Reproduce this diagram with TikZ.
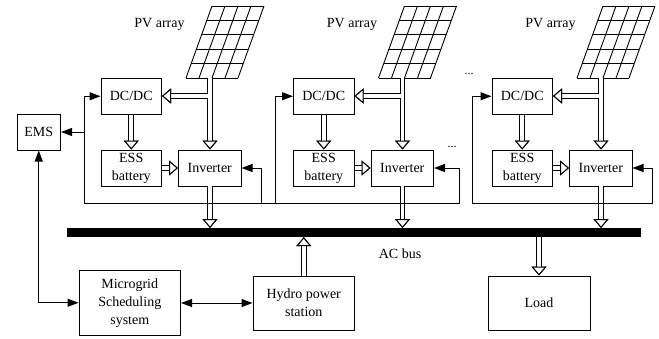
\documentclass[tikz,border=0pt]{standalone}
\usepackage{fontspec}
\setmainfont{Liberation Serif}
\usetikzlibrary{arrows.meta}
\usetikzlibrary{calc}
\tikzset{
    blockbox/.style={draw=black, line width=1pt, minimum width=#1, inner sep=0pt, align=center, font=\fontsize{14}{18}\selectfont},
    signalline/.style={black, line width=1pt, -{Triangle[length=11pt,width=8pt]}},
    bothline/.style={black, line width=1pt, {Triangle[length=11pt,width=8pt]}-{Triangle[length=11pt,width=8pt]}},
    powerline/.style={white, line width=3.6pt, -{Triangle[open,color=black,fill=white,length=9pt,width=15pt,line width=1pt]}, preaction={draw=black, line width=5.6pt}},
    gridline/.style={black, line width=0.9pt},
    plainlabel/.style={font=\fontsize{14}{16}\selectfont, inner sep=0pt},
    dotlabel/.style={font=\fontsize{12}{14}\selectfont, inner sep=0pt},
}
\begin{document}
\begin{tikzpicture}[x=1pt,y=-1pt]
        \useasboundingbox (0,0) rectangle (659,338);
        % one generation unit per offset
        \foreach \n/\x in {a/0, b/192.5, c/391} {
                \begin{scope}[xshift=\x pt]
                \node[blockbox=60.5pt, minimum height=35.5pt] (dcdc\n) at (131.25,96.25) {DC/DC};
                \node[blockbox=60.5pt, minimum height=36pt] (ess\n) at (131.25,168) {ESS\\battery};
                \node[blockbox=62.5pt, minimum height=36pt] (inv\n) at (209.75,168) {Inverter};
                \node[plainlabel] (pvlabel\n) at (159.5,24) {PV array};
                % panel
                \coordinate (pv\n) at (210,78);
                \foreach \i in {0,...,4} {
                        \draw[gridline] ($(186,78)!\i/4!(238,78)$) -- ($(212,6)!\i/4!(264,6)$);
                    }
                \foreach \i in {0,...,5} {
                        \draw[gridline] ($(186,78)!\i/5!(212,6)$) -- ($(238,78)!\i/5!(264,6)$);
                    }
                \coordinate (tap\n) at (210,96);
                \draw[powerline] (tap\n) -- (dcdc\n.east |- tap\n);
                \draw[powerline] (pv\n) -- (inv\n.north -| pv\n);
                \draw[white, line width=3.6pt] (tap\n) ++(-4,0) -- ++(4,0);
                \draw[powerline] (dcdc\n.south) -- (ess\n.north);
                \draw[powerline] (ess\n.east) -- (inv\n.west);
                \coordinate (out\n) at (210,186);
                \coordinate (busin\n) at (210,228);
                \draw[powerline] (out\n) -- (busin\n);
                \end{scope}
            }
        \node[fill=black, minimum width=574pt, minimum height=9pt, inner sep=0pt] (bus) at (354,232.5) {};
        \node[plainlabel] (buslabel) at (400,253.5) {AC bus};
        \node[blockbox=43.5pt, minimum height=36pt] (ems) at (38.75,132) {EMS};
        \node[blockbox=101.5pt, minimum height=64.5pt] (micro) at (129.75,302.75) {Microgrid\\Scheduling\\system};
        \node[blockbox=101.5pt, minimum height=54pt] (hydro) at (303.75,303) {Hydro power\\station};
        \node[blockbox=102pt, minimum height=54pt] (load) at (539,303) {Load};
        \node[dotlabel] (dotsa) at (469,73.5) {...};
        \node[dotlabel] (dotsb) at (452,146.5) {...};
        % feedback lines under the units
        \coordinate (fbleft) at (84,203.5);
        \coordinate (fbmid) at (472,203.5);
        \draw[signalline] (fbleft) |- (dcdca.west);
        \draw[black, line width=1pt] (fbleft) -- (459,203.5);
        \draw[signalline] (261,203.5) |- (inva.east);
        \draw[signalline] (275,203.5) |- (dcdcb.west);
        \draw[signalline] (459,203.5) |- (invb.east);
        \draw[signalline] (fbmid) |- (dcdcc.west);
        \draw[black, line width=1pt] (fbmid) -- (652,203.5);
        \draw[signalline] (652,203.5) |- (invc.east);
        \draw[signalline] (84,132) -- (ems.east);
        \draw[bothline] (ems.south) |- (micro.west);
        \draw[bothline] (micro.east |- hydro) -- (hydro.west);
        \draw[powerline] (hydro.north) -- (bus.south -| hydro);
        \draw[powerline] (bus.south -| load) -- (load.north);
    \end{tikzpicture}
\end{document}
